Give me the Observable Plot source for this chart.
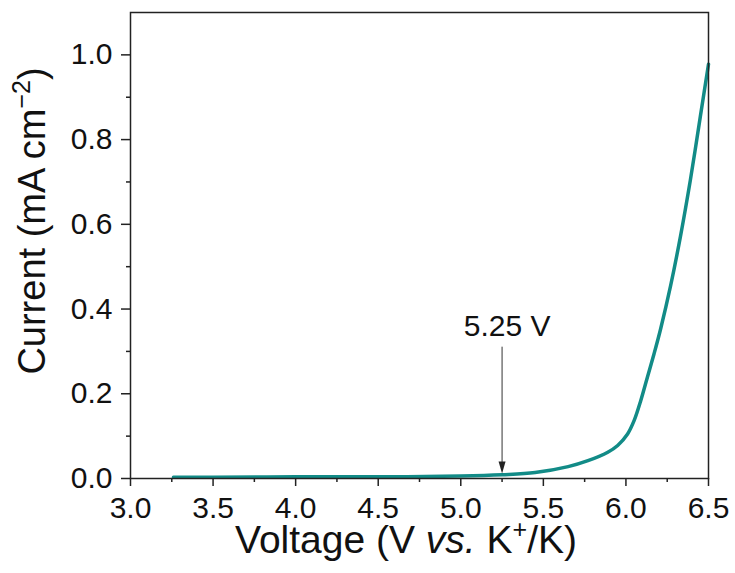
<!DOCTYPE html>
<html>
<head>
<meta charset="utf-8">
<script src="https://cdn.jsdelivr.net/npm/d3@7"></script>
<script src="https://cdn.jsdelivr.net/npm/@observablehq/plot@0.6"></script>
<style>
  html, body { margin: 0; padding: 0; background: #fff; }
  #chart { width: 735px; height: 573px; }
</style>
</head>
<body>
<div id="chart"></div>
<script>
// Data
const voltage = [3.26, 3.5, 4.0, 4.5, 5.0, 5.25, 5.45, 5.65, 5.77, 5.89, 5.95, 6.01, 6.05, 6.09, 6.13, 6.17, 6.21, 6.27, 6.33, 6.39, 6.45, 6.5];
const current = [0.003, 0.003, 0.004, 0.004, 0.006, 0.009, 0.014, 0.028, 0.042, 0.062, 0.078, 0.105, 0.137, 0.184, 0.239, 0.294, 0.353, 0.454, 0.571, 0.704, 0.853, 0.978];

const xMajorTicks = [3.0, 3.5, 4.0, 4.5, 5.0, 5.5, 6.0, 6.5];
const xMinorTicks = [3.25, 3.75, 4.25, 4.75, 5.25, 5.75, 6.25];
const yMajorTicks = [0.0, 0.2, 0.4, 0.6, 0.8, 1.0];
const yMinorTicks = [0.1, 0.3, 0.5, 0.7, 0.9];

const onsetVoltage = [5.25];
const onsetLabel = ["5.25 V"];
const arrowTop = 0.31, arrowShaftEnd = 0.03, arrowTip = 0.012, labelY = 0.359;

const table = voltage.map((v, i) => ({v, c: current[i]}));

const axisColor = "#222";
const font = "'Liberation Sans', Arial, sans-serif";

// downward-pointing filled arrow head, tip at the origin
const arrowHead = {
  draw(ctx) {
    ctx.moveTo(-3.5, -12);
    ctx.lineTo(3.5, -12);
    ctx.lineTo(0, 0);
    ctx.closePath();
  }
};

const svg = Plot.plot({
  width: 735,
  height: 573,
  marginLeft: 130,
  marginRight: 27,
  marginTop: 12,
  marginBottom: 95,
  style: {fontFamily: font, fontSize: "30px", background: "#fff", color: axisColor},
  x: {domain: [3.0, 6.5]},
  y: {domain: [0, 1.1]},
  marks: [
    Plot.axisX(xMajorTicks, {tickSize: 8, tickPadding: 10, tickFormat: d3.format(".1f"), label: null, stroke: axisColor, strokeWidth: 1.5, fill: "#111"}),
    Plot.axisX(xMinorTicks, {tickSize: 4, tickFormat: () => "", label: null, stroke: axisColor, strokeWidth: 1.5}),
    Plot.axisY(yMajorTicks, {tickSize: 9, tickPadding: 9, tickFormat: d3.format(".1f"), label: null, stroke: axisColor, strokeWidth: 1.5, fill: "#111"}),
    Plot.axisY(yMinorTicks, {tickSize: 4, tickFormat: () => "", label: null, stroke: axisColor, strokeWidth: 1.5}),
    Plot.line(table, {x: "v", y: "c", stroke: "#128b87", strokeWidth: 3.5, curve: "catmull-rom"}),
    Plot.ruleX(onsetVoltage, {x: d => d, y1: arrowTop, y2: arrowShaftEnd, stroke: "#333", strokeWidth: 1}),
    Plot.dot(onsetVoltage, {x: d => d, y: arrowTip, symbol: arrowHead, r: 5, fill: "#222", stroke: "none"}),
    Plot.text(onsetLabel, {x: onsetVoltage[0], y: labelY, text: d => d, dx: 5, fontSize: 30, fill: "#111", textAnchor: "middle"}),
    Plot.frame({stroke: axisColor, strokeWidth: 1.5})
  ]
});

const s = d3.select(svg);
// X axis title
const xt = s.append("text")
  .attr("x", 406).attr("y", 553)
  .attr("text-anchor", "middle")
  .attr("font-size", 39).attr("fill", "#111")
  .style("font-family", font);
xt.append("tspan").text("Voltage (V ");
xt.append("tspan").attr("font-style", "italic").text("vs.");
xt.append("tspan").text(" K");
xt.append("tspan").attr("font-size", 25).attr("dy", -15).text("+");
xt.append("tspan").attr("dy", 15).text("/K)");

// Y axis title
const yt = s.append("text")
  .attr("transform", "translate(45,221) rotate(-90)")
  .attr("text-anchor", "middle")
  .attr("font-size", 38).attr("fill", "#111")
  .style("font-family", font);
yt.append("tspan").text("Current (mA cm");
yt.append("tspan").attr("font-size", 25).attr("dy", -15).text("\u22122");
yt.append("tspan").attr("dy", 15).text(")");

document.getElementById("chart").appendChild(svg);
</script>
</body>
</html>
